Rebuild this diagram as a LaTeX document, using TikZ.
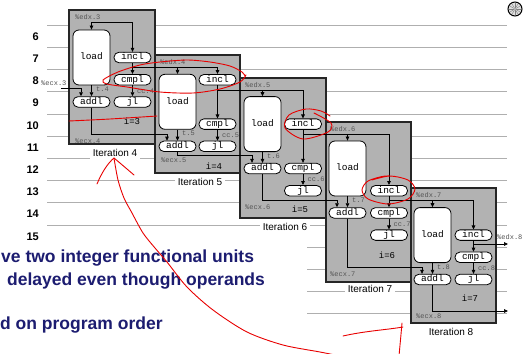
\documentclass[tikz,border=0pt]{standalone}
\usepackage{fontspec}
\setmainfont{Liberation Sans}
\setmonofont{Liberation Mono}
\usetikzlibrary{arrows.meta}
\definecolor{boxgray}{RGB}{178,178,178}
\definecolor{linegray}{RGB}{175,175,175}
\definecolor{lblgray}{RGB}{85,85,85}
\definecolor{navy}{RGB}{28,28,112}
\definecolor{pen}{RGB}{232,0,0}
\begin{document}
\begin{tikzpicture}[x=1pt,y=-1pt,
  rowline/.style={draw=linegray,line width=0.6pt},
  rownum/.style={font=\bfseries\fontsize{11}{12}\selectfont,anchor=east,inner sep=0pt},
  iterbox/.style={fill=boxgray,draw=black!85,line width=1.1pt},
  iterlbl/.style={fill=white,font=\fontsize{10}{12}\selectfont,inner xsep=3pt,inner ysep=2pt,text height=7.3pt,text depth=0pt},
  pill/.style={draw=black,line width=0.8pt,fill=white,rounded corners=5pt,minimum width=37pt,minimum height=10.5pt,inner sep=0pt,font=\ttfamily\fontsize{9.5}{10}\selectfont,text height=6pt,text depth=1.2pt},
  loadbox/.style={pill,rounded corners=6pt,minimum height=55pt},
  lbl/.style={font=\ttfamily\fontsize{7}{8}\selectfont,text=lblgray,inner sep=0pt},
  ilbl/.style={font=\ttfamily\fontsize{9}{10}\selectfont,inner sep=0pt},
  arr/.style={draw=black,line width=0.7pt,-{Triangle[length=4pt,width=3.6pt]}},
  bluetxt/.style={font=\bfseries\fontsize{17.5}{20}\selectfont,text=navy,anchor=base west,inner sep=0pt},
  pen/.style={draw=pen,line width=0.9pt,line cap=round,line join=round}]
\useasboundingbox (0,0) rectangle (523,354);
\fill[white] (0,0) rectangle (523,354);

% row lines
\foreach \k in {0,...,9} \draw[rowline] (47,{25+22.2*\k}) -- (507,{25+22.2*\k});
\foreach \k in {10,...,13} \draw[rowline] (307,{25+22.2*\k}) -- (507,{25+22.2*\k});
% row numbers
\foreach \n [count=\k from 0] in {6,...,15} \node[rownum] (r\n) at (39,{36.5+22.2*\k}) {\n};

% iteration boxes
\draw[iterbox] (69,10) rectangle (155,144);
\draw[iterbox] (155,55) rectangle (240,173);
\draw[iterbox] (240,78) rectangle (326,218);
\draw[iterbox] (326,122) rectangle (411,282);
\draw[iterbox] (411,188) rectangle (496,323);

% iteration labels
\node[iterlbl] (it4) at (115,153) {Iteration 4};
\node[iterlbl] (it5) at (200,182) {Iteration 5};
\node[iterlbl] (it6) at (285,227) {Iteration 6};
\node[iterlbl] (it7) at (370,289) {Iteration 7};
\node[iterlbl] (it8) at (451,332) {Iteration 8};

% ---------- iteration 4
\node[loadbox] (L4) at (91.5,57.5) {load};
\node[pill] (I4) at (132.5,57.5) {incl};
\node[pill] (C4) at (132.5,79.7) {cmpl};
\node[pill] (A4) at (91.5,101.9) {addl};
\node[pill] (J4) at (132.5,101.9) {jl};
% ---------- iteration 5
\node[loadbox] (L5) at (177.5,101.8) {load};
\node[pill] (I5) at (217.5,79.7) {incl};
\node[pill] (C5) at (217.5,124.1) {cmpl};
\node[pill] (A5) at (177.5,146.3) {addl};
\node[pill] (J5) at (217.5,146.3) {jl};
% ---------- iteration 6
\node[loadbox] (L6) at (262.5,124.1) {load};
\node[pill] (I6) at (303,124.1) {incl};
\node[pill] (C6) at (303,168.5) {cmpl};
\node[pill] (A6) at (262.5,168.5) {addl};
\node[pill] (J6) at (303,190.7) {jl};
% ---------- iteration 7
\node[loadbox] (L7) at (347.5,168.5) {load};
\node[pill] (I7) at (389,190.7) {incl};
\node[pill] (C7) at (389,212.9) {cmpl};
\node[pill] (A7) at (347.5,212.9) {addl};
\node[pill] (J7) at (389,235.1) {jl};
% ---------- iteration 8
\node[loadbox] (L8) at (432.5,235.1) {load};
\node[pill] (I8) at (473.5,235.1) {incl};
\node[pill] (C8) at (473.5,257.3) {cmpl};
\node[pill] (A8) at (432.5,279.5) {addl};
\node[pill] (J8) at (473.5,279.5) {jl};

% internal arrows
\foreach \i in {4,...,8}{
  \draw[arr] (L\i.south) -- (A\i.north);
  \draw[arr] (I\i.south) -- (C\i.north);
  \draw[arr] (C\i.south) -- (J\i.north);
}

% edx chain
\coordinate (e4) at (91.5,22);
\draw[arr] (e4) -- (L4.north);
\draw[arr] (e4) -| (I4.north);
\coordinate (e5) at (132.5,67);
\coordinate (e6) at (217.5,90);
\coordinate (e7) at (303,134);
\coordinate (e8) at (389,200);
\draw[arr] (e5) -| (I5.north);  \draw[arr] (L5.north |- e5) -- (L5.north);
\draw[arr] (e6) -| (I6.north);  \draw[arr] (L6.north |- e6) -- (L6.north);
\draw[arr] (e7) -| (I7.north);  \draw[arr] (L7.north |- e7) -- (L7.north);
\draw[arr] (e8) -| (I8.north);  \draw[arr] (L8.north |- e8) -- (L8.north);
\coordinate (e9) at (473.5,244);
\coordinate (e9end) at (508,244);
\draw[arr] (e9) -- (e9end);

% ecx chain
\coordinate (x4) at (61,88);
\draw[arr] (x4) -| ([xshift=-10.5pt]A4.north);
\coordinate (x5) at (91.5,134);
\coordinate (x6) at (177.5,155);
\coordinate (x7) at (262.5,200);
\coordinate (x8) at (347.5,267);
\coordinate (x9) at (432.5,311);
\coordinate (x9end) at (508,311);
\draw[arr] (A4.south) -- (x5) -| ([xshift=-10.5pt]A5.north);
\draw[arr] (A5.south) -- (x6) -| ([xshift=-10.5pt]A6.north);
\draw[arr] (A6.south) -- (x7) -| ([xshift=-10.5pt]A7.north);
\draw[arr] (A7.south) -- (x8) -| ([xshift=-10.5pt]A8.north);
\draw[arr] (A8.south) -- (x9) -- (x9end);

% small labels
\node[lbl,anchor=west] (le3) at (75,17) {\%edx.3};
\node[lbl,anchor=west] (le4) at (160,62) {\%edx.4};
\node[lbl,anchor=west] (le5) at (245,85) {\%edx.5};
\node[lbl,anchor=west] (le6) at (330,129) {\%edx.6};
\node[lbl,anchor=west] (le7) at (416,195) {\%edx.7};
\node[lbl,anchor=west] (le8) at (497,237) {\%edx.8};
\node[lbl,anchor=west] (lc3) at (41,83) {\%ecx.3};
\node[lbl,anchor=west] (lc4) at (75,141) {\%ecx.4};
\node[lbl,anchor=west] (lc5) at (161,160) {\%ecx.5};
\node[lbl,anchor=west] (lc6) at (245,207) {\%ecx.6};
\node[lbl,anchor=west] (lc7) at (330,274) {\%ecx.7};
\node[lbl,anchor=west] (lc8) at (416,316) {\%ecx.8};
\foreach \i in {4,...,8}{
  \node[lbl,anchor=west] (t\i) at ([xshift=4.5pt,yshift=7pt]A\i.north) {t.\i};
  \node[lbl,anchor=west] (cc\i) at ([xshift=4.5pt,yshift=5.5pt]J\i.north) {cc.\i};
}
\node[ilbl] (i3) at (132,121) {i=3};
\node[ilbl] (i4) at (214,166) {i=4};
\node[ilbl] (i5) at (300,209) {i=5};
\node[ilbl] (i6) at (387,255) {i=6};
\node[ilbl] (i7) at (470,298) {i=7};

% blue slide text
\node[bluetxt] (b1) at (1,262.5) {ve two integer functional units};
\node[bluetxt] (b2) at (7,285) {delayed even though operands};
\node[bluetxt] (b3) at (0,329) {d on program order};

% icon
\draw[fill=gray!25,line width=1pt] (515,9) circle (7);
\foreach \a in {0,30,...,150} \draw[gray,line width=0.4pt] (515,9) ++(\a:6) -- ++(\a+180:12);
\fill[gray!60] (515,9) circle (1.5);

% red annotations
\draw[pen] plot[smooth] coordinates {(245,76) (242,72) (230,66) (210,62) (187,60) (160,62) (140,65) (118,72) (103,80) (107,84) (127,87) (160,92) (193,93) (220,89) (240,82) (246,75)};
\draw[pen] plot[smooth] coordinates {(69,121) (110,119) (157,116)};
\draw[pen] (97,184) .. controls (102,172) and (108,163) .. (114,158) .. controls (120,163) and (127,169) .. (134,175);
\draw[pen] plot[smooth] coordinates {(114,158) (118,180) (124,198) (132,213) (143,233) (155,248) (167,262) (187,287) (213,310) (247,332) (283,345) (320,352) (345,357)};
\draw[pen] (343,336) .. controls (365,331) and (385,330) .. (403,327);
\draw[pen] (402,323) .. controls (401,335) and (400,345) .. (399,356);
\draw[pen] plot[smooth] coordinates {(314,113) (331,123) (328,132) (303,139) (285,128) (289,115) (306,109) (321,111) (330,116)};
\draw[pen] plot[smooth] coordinates {(372,180) (390,176) (408,180) (415,189) (408,199) (388,204) (368,199) (362,190) (368,181) (385,176) (398,177)};
\end{tikzpicture}
\end{document}
